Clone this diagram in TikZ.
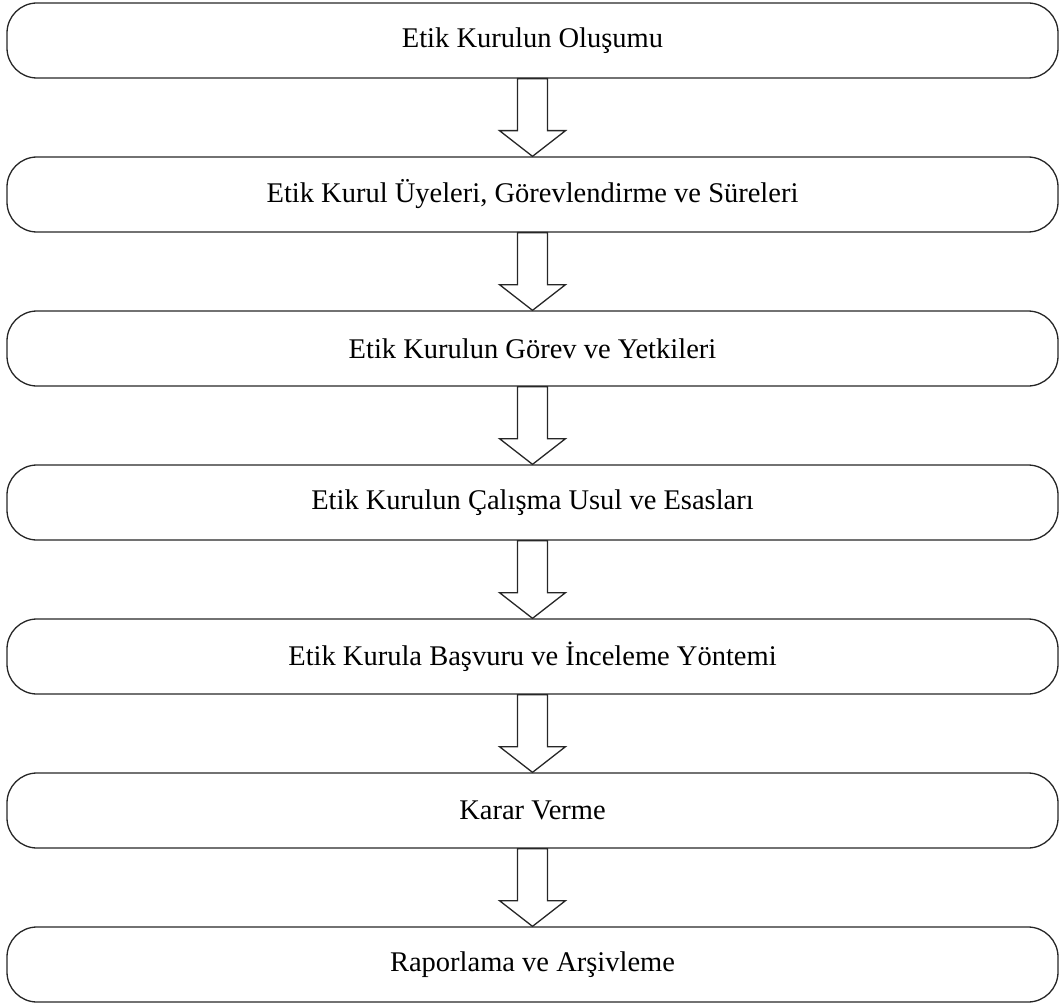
\documentclass[tikz,border=0pt]{standalone}
\usepackage{fontspec}
\setmainfont{Liberation Serif}
\usetikzlibrary{calc}
\begin{document}
\begin{tikzpicture}[x=1pt,y=-1pt,
  stepbox/.style={draw=black!85, line width=1.3pt, rounded corners=30pt, minimum width=1051pt, minimum height=75pt, inner sep=0pt, font=\fontsize{28.5}{32}\selectfont},
  arr/.style={draw=black!85, line width=1.3pt, line join=miter}]
\useasboundingbox (0,0) rectangle (1060,1003);
\node[stepbox] (b0) at (532.5,40.5) {Etik Kurulun Oluşumu};
\node[stepbox] (b1) at (532.5,194.5) {Etik Kurul Üyeleri, Görevlendirme ve Süreleri};
\node[stepbox] (b2) at (532.5,348.5) {Etik Kurulun Görev ve Yetkileri};
\node[stepbox] (b3) at (532.5,502.5) {Etik Kurulun Çalışma Usul ve Esasları};
\node[stepbox] (b4) at (532.5,656.5) {Etik Kurula Başvuru ve İnceleme Yöntemi};
\node[stepbox] (b5) at (532.5,810.5) {Karar Verme};
\node[stepbox] (b6) at (532.5,964.5) {Raporlama ve Arşivleme};
\foreach \a/\b in {b0/b1,b1/b2,b2/b3,b3/b4,b4/b5,b5/b6}{
  \draw[arr] ($(\a.south)+(-15,0)$) -- ($(\a.south)+(-15,52)$) -- ($(\a.south)+(-33,52)$) -- (\b.north)
    -- ($(\a.south)+(33,52)$) -- ($(\a.south)+(15,52)$) -- ($(\a.south)+(15,0)$) -- cycle;
}
\end{tikzpicture}
\end{document}
